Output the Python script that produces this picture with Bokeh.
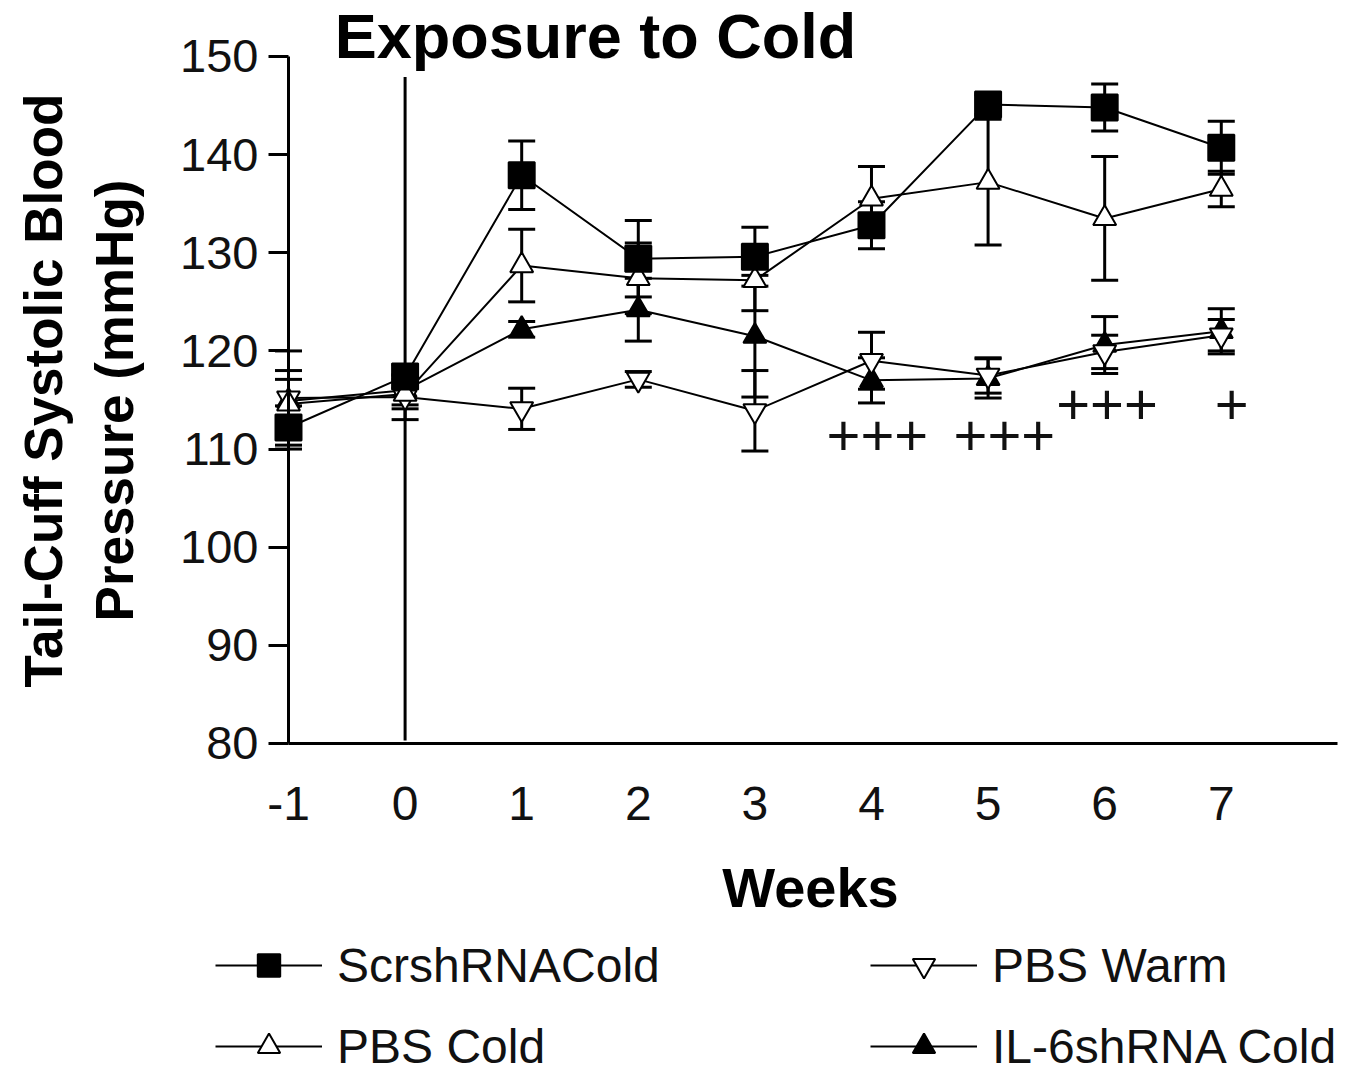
import math
from bokeh.plotting import figure
from bokeh.models import (ColumnDataSource, Whisker, TeeHead, Range1d, FixedTicker,
                          Label, Legend, LegendItem)
from bokeh.embed import file_html
from bokeh.resources import INLINE
from bokeh.core.properties import value

# ---------------- data ----------------
weeks = [-1, 0, 1, 2, 3, 4, 5, 6, 7]
week_ticks = [-1, 0, 1, 2, 3, 4, 5, 6, 7]
bp_ticks = [80, 90, 100, 110, 120, 130, 140, 150]

scr_mean = [112.2, 117.4, 137.9, 129.4, 129.6, 132.8, 145.1, 144.8, 140.7]
scr_sem = [2.2, 1.2, 3.5, 3.9, 3.0, 2.4, 1.0, 2.4, 2.7]

pbs_cold_mean = [114.6, 115.6, 128.7, 127.4, 127.2, 135.5, 137.2, 133.5, 136.5]
pbs_cold_sem = [3.4, 1.5, 3.7, 3.6, 3.1, 3.3, 6.4, 6.3, 1.8]

pbs_warm_mean = [115.2, 115.3, 114.1, 117.1, 113.9, 119.0, 117.5, 119.9, 121.6]
pbs_warm_sem = [4.8, 2.3, 2.1, 0.8, 4.1, 2.9, 1.8, 1.7, 1.6]

il6_mean = [114.9, 116.0, 122.2, 124.2, 121.5, 117.0, 117.2, 120.6, 122.0]
il6_sem = [2.2, 1.5, 0.8, 3.2, 6.2, 2.3, 2.0, 2.9, 2.3]

sig_x = [4.05, 5.14, 6.02, 7.09]
sig_y = [111.4, 111.4, 114.6, 114.6]
sig_text = ["+++", "+++", "+++", "+"]

exposure_week = 0
exposure_span = [80.3, 147.9]

FONT = "Liberation Sans"

W, H = 1360, 1071
# frame covers the whole canvas; axes are pinned with fixed_location
p = figure(width=W, height=H, output_backend="svg", toolbar_location=None,
           x_range=Range1d(-3.470, 8.194), y_range=Range1d(46.578, 155.706),
           min_border=0)
p.outline_line_color = None
p.xgrid.visible = False
p.ygrid.visible = False
p.background_fill_color = "white"
p.border_fill_color = "white"

p.xaxis.ticker = FixedTicker(ticks=week_ticks)
p.yaxis.ticker = FixedTicker(ticks=bp_ticks)
p.xaxis.fixed_location = 80
p.yaxis.fixed_location = -1
p.xaxis.bounds = (-1, 8)
p.yaxis.bounds = (80, 150)
p.xaxis.major_label_overrides = {t: str(t) for t in week_ticks}
for ax in (p.xaxis[0], p.yaxis[0]):
    ax.axis_line_width = 3
    ax.axis_line_color = "black"
    ax.major_tick_line_width = 3
    ax.major_tick_line_color = "black"
    ax.minor_tick_line_color = None
    ax.major_label_text_font = FONT
    ax.major_label_text_color = "#111111"
p.xaxis.major_tick_out = 0
p.xaxis.major_tick_in = 0
p.xaxis.major_label_text_font_size = "48px"
p.xaxis.major_label_standoff = 44
p.yaxis.major_tick_out = 20
p.yaxis.major_tick_in = 0
p.yaxis.major_label_text_font_size = "47px"
p.yaxis.major_label_standoff = 10

# exposure line
p.segment(x0=[exposure_week], y0=[exposure_span[0]], x1=[exposure_week], y1=[exposure_span[1]],
          line_color="black", line_width=3)

series = [
    ("ScrshRNACold", scr_mean, scr_sem, "square", "black", 26),
    ("PBS Cold", pbs_cold_mean, pbs_cold_sem, "triangle", "white", 23),
    ("PBS Warm", pbs_warm_mean, pbs_warm_sem, "inverted_triangle", "white", 23),
    ("IL-6shRNA Cold", il6_mean, il6_sem, "triangle", "black", 23),
]

renderers = {}
for name, mean, sem, marker, fill, size in series:
    src = ColumnDataSource(dict(x=weeks, y=mean,
                                lo=[m - s for m, s in zip(mean, sem)],
                                hi=[m + s for m, s in zip(mean, sem)]))
    w = Whisker(source=src, base="x", lower="lo", upper="hi",
                line_color="black", line_width=3, level="underlay",
                upper_head=TeeHead(size=27, line_width=3, line_color="black"),
                lower_head=TeeHead(size=27, line_width=3, line_color="black"))
    p.add_layout(w)
    lr = p.line("x", "y", source=src, line_color="black", line_width=2)
    renderers[name] = [lr]

for name, mean, sem, marker, fill, size in series[::-1]:
    sr = p.scatter(x=weeks, y=mean, marker=marker, size=size, fill_color=fill,
                   line_color="black", line_width=2)
    renderers[name].append(sr)

# significance markers
p.text(x=sig_x, y=sig_y, text=sig_text, text_font=value(FONT), text_font_size="58px",
       text_align="center", text_baseline="middle", text_color="#111111")

def img_label(px, py, text, size, bold=True, angle=0.0):
    # image coords (top-left origin) -> screen units of the full-canvas frame
    return Label(x=px, y=H - py, x_units="screen", y_units="screen",
                 text=text, angle=angle, text_font=FONT,
                 text_font_style="bold" if bold else "normal",
                 text_font_size=size, text_align="center", text_baseline="middle",
                 text_color="black")

p.add_layout(img_label(595, 35, "Exposure to Cold", "63px"))
p.add_layout(img_label(810, 887, "Weeks", "56px"))
p.add_layout(img_label(43, 390, "Tail-Cuff Systolic Blood", "53px", angle=math.pi / 2))
p.add_layout(img_label(114, 400, "Pressure (mmHg)", "53px", angle=math.pi / 2))

def make_legend(names, loc):
    return Legend(items=[LegendItem(label=n, renderers=renderers[n]) for n in names],
                  location=loc, orientation="vertical",
                  glyph_width=107, glyph_height=56, label_height=56,
                  label_standoff=15, spacing=25, padding=0, margin=0,
                  border_line_color=None, background_fill_alpha=0,
                  label_text_font=FONT, label_text_font_size="48px",
                  label_text_color="#111111")

p.add_layout(make_legend(["ScrshRNACold", "PBS Cold"], (215, -3)))
p.add_layout(make_legend(["PBS Warm", "IL-6shRNA Cold"], (870, -3)))

open("out.html", "w").write(file_html(p, INLINE))
